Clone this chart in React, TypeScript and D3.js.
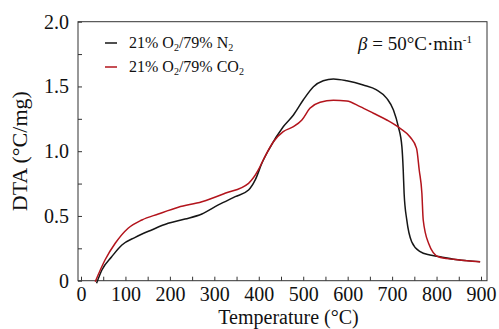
import { useEffect, useRef } from "react"
import * as d3 from "d3"

// readings: [temperature °C, DTA °C/mg]
const n2Temp = [35, 47, 69, 92, 122, 159, 196, 234, 272, 309, 347, 377, 392, 407, 422, 455, 478, 500, 523, 545, 568, 598, 635, 665, 688, 703, 714, 722, 725, 727, 733, 744, 763, 785, 808, 838, 868, 898]
const n2Dta = [-0.02, 0.083, 0.185, 0.276, 0.335, 0.392, 0.443, 0.476, 0.515, 0.585, 0.649, 0.7, 0.778, 0.907, 1.009, 1.189, 1.28, 1.395, 1.498, 1.544, 1.558, 1.544, 1.511, 1.473, 1.408, 1.318, 1.189, 1.035, 0.855, 0.675, 0.469, 0.301, 0.224, 0.198, 0.185, 0.166, 0.155, 0.147]
const co2Temp = [32, 54, 77, 106, 137, 174, 219, 272, 324, 377, 399, 410, 433, 455, 478, 497, 515, 538, 568, 598, 628, 658, 688, 718, 740, 755, 761, 767, 770, 782, 804, 838, 868, 898]
const co2Dta = [-0.008, 0.16, 0.289, 0.405, 0.469, 0.515, 0.567, 0.61, 0.675, 0.752, 0.855, 0.932, 1.073, 1.151, 1.189, 1.241, 1.331, 1.378, 1.393, 1.388, 1.344, 1.293, 1.241, 1.177, 1.112, 1.022, 0.855, 0.675, 0.469, 0.289, 0.185, 0.165, 0.154, 0.147]

const xTicks = d3.range(0, 901, 50)
const xLabels = d3.range(0, 901, 100)
const yTicks = d3.range(0, 2.001, 0.25)
const yLabels = [0, 0.5, 1, 1.5, 2]

const BLACK = "#161616"
const RED = "#b3141c"
const FONT = "'Times New Roman', 'Liberation Serif', Times, serif"

export default function App() {
  const ref = useRef<SVGSVGElement>(null)
  useEffect(() => {
    if (!ref.current) return
    const m = { left: 78, right: 487, top: 21.7, bottom: 280.7 }
    const svg = d3.select(ref.current)
    svg.selectAll("*").remove()

    const x = d3.scaleLinear().domain([-6.75, 913.5]).range([m.left, m.right])
    const y = d3.scaleLinear().domain([0, 2]).range([m.bottom, m.top])

    const styleAxis = (g: d3.Selection<SVGGElement, unknown, null, undefined>) => {
      g.select(".domain").remove()
      g.selectAll("line").style("stroke", "#333")
      g.selectAll("text").style("fill", "#111").style("font-family", FONT).style("font-size", "20px")
    }

    // inward ticks (no labels)
    svg.append("g").attr("transform", `translate(0,${m.bottom})`)
      .call(d3.axisBottom(x).tickValues(xTicks).tickSize(-4).tickFormat(() => ""))
      .call(g => { styleAxis(g); g.selectAll("text").remove() })
    svg.append("g").attr("transform", `translate(${m.left},0)`)
      .call(d3.axisLeft(y).tickValues(yTicks).tickSize(-4).tickFormat(() => ""))
      .call(g => { styleAxis(g); g.selectAll("text").remove() })

    // labels
    svg.append("g").attr("transform", `translate(0,${m.bottom})`)
      .call(d3.axisBottom(x).tickValues(xLabels).tickSize(0).tickPadding(6).tickFormat(d => String(d)))
      .call(g => { styleAxis(g); g.selectAll("line").remove() })
    svg.append("g").attr("transform", `translate(${m.left},0)`)
      .call(d3.axisLeft(y).tickValues(yLabels).tickSize(0).tickPadding(9)
        .tickFormat(d => (+d === 0 ? "0" : d3.format(".1f")(+d))))
      .call(g => { styleAxis(g); g.selectAll("line").remove() })

    svg.append("rect").attr("x", m.left).attr("y", m.top)
      .attr("width", m.right - m.left).attr("height", m.bottom - m.top)
      .attr("fill", "none").attr("stroke", "#333").attr("stroke-width", 1)

    const line = d3.line<[number, number]>().x(d => x(d[0])).y(d => y(d[1])).curve(d3.curveMonotoneX)
    const series = [
      { t: n2Temp, v: n2Dta, c: BLACK },
      { t: co2Temp, v: co2Dta, c: RED },
    ]
    series.forEach(s => {
      svg.append("path").datum(s.t.map((t, i) => [t, s.v[i]] as [number, number]))
        .attr("d", line).attr("fill", "none").attr("stroke", s.c).attr("stroke-width", 1.5)
    })

    // legend
    const leg = [
      { c: BLACK, gas: "N", y: 48 },
      { c: RED, gas: "CO", y: 72 },
    ]
    leg.forEach(l => {
      svg.append("line").attr("x1", 105).attr("x2", 117).attr("y1", l.y - 5).attr("y2", l.y - 5)
        .attr("stroke", l.c).attr("stroke-width", 1.5)
      const t = svg.append("text").attr("x", 129).attr("y", l.y)
        .style("font-family", FONT).style("font-size", "16px").style("fill", "#111")
      t.append("tspan").text("21% O")
      t.append("tspan").attr("dy", 3).style("font-size", "10px").text("2")
      t.append("tspan").attr("dy", -3).text(`/79% ${l.gas}`)
      t.append("tspan").attr("dy", 3).style("font-size", "10px").text("2")
    })

    const b = svg.append("text").attr("x", 472).attr("y", 50).attr("text-anchor", "end")
      .style("font-family", FONT).style("font-size", "19px").style("fill", "#111")
    b.append("tspan").style("font-style", "italic").text("β")
    b.append("tspan").text(" = 50°C·min")
    b.append("tspan").attr("dy", -7).style("font-size", "11px").text("-1")

    svg.append("text").attr("x", (m.left + m.right) / 2 + 6).attr("y", 324).attr("text-anchor", "middle")
      .style("font-family", FONT).style("font-size", "20px").style("fill", "#111").text("Temperature (°C)")
    svg.append("text").attr("transform", `translate(27,${(m.top + m.bottom) / 2}) rotate(-90)`)
      .attr("text-anchor", "middle")
      .style("font-family", FONT).style("font-size", "22px").style("fill", "#111").text("DTA (°C/mg)")
  }, [])
  return (
    <svg ref={ref} width={499} height={329}
      style={{ position: "absolute", left: 0, top: 0, background: "#fff", display: "block" }} />
  )
}
